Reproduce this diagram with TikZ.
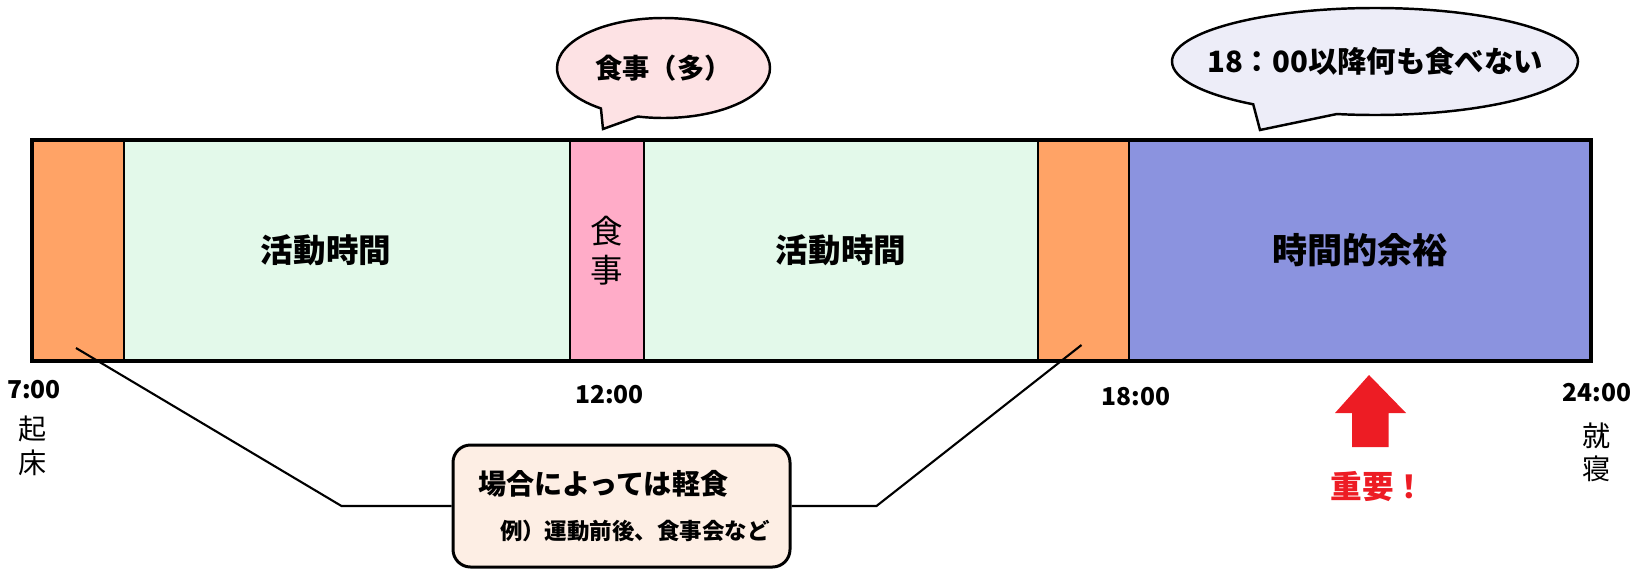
\documentclass[tikz,border=0pt]{standalone}
\usepackage{fontspec}
\setmainfont{Noto Sans CJK JP}
\usepackage{tikz}
\usetikzlibrary{positioning,shapes.geometric,shapes.callouts}
\definecolor{edgeorange}{HTML}{FFA366}
\definecolor{workgreen}{HTML}{E3F9EA}
\definecolor{mealpink}{HTML}{FFACC8}
\definecolor{sparepurple}{HTML}{8B93DF}
\definecolor{saypink}{HTML}{FDE2E4}
\definecolor{saylavender}{HTML}{EDEDF8}
\definecolor{notepeach}{HTML}{FDEEE4}
\definecolor{alertred}{HTML}{ED1C24}

\begin{document}
\begin{tikzpicture}[
    seg/.style={rectangle, draw=black, line width=1.4pt, minimum height=4.42cm, inner sep=0pt, outer sep=0pt},
    segtext/.style={font=\bfseries\fontsize{18.5}{20}\selectfont},
    bubble/.style={ellipse callout, draw=black, line width=1.4pt, inner sep=0pt, font=\bfseries\fontsize{15.5}{17}\selectfont},
    clock/.style={font=\bfseries\fontsize{14}{16}\selectfont},
    tate/.style={align=center, font=\fontsize{16}{19}\selectfont},
    leader/.style={line width=1.2pt}
]
    \useasboundingbox (0,0) rectangle (32.8,-11.66);

    % day bar
    \node[seg, fill=edgeorange, minimum width=1.85cm] (morn) at (1.56,-5.01) {};
    \node[seg, segtext, fill=workgreen, minimum width=8.91cm, right=0pt of morn] (work1) {\raisebox{-4pt}{活動時間}\hspace*{0.84cm}};
    \node[seg, fill=mealpink, minimum width=1.48cm, right=0pt of work1, align=center, font=\fontsize{18.5}{22}\selectfont] (meal) {食\\事};
    \node[seg, segtext, fill=workgreen, minimum width=7.89cm, right=0pt of meal] (work2) {\raisebox{-2pt}{活動時間}};
    \node[seg, fill=edgeorange, minimum width=1.82cm, right=0pt of work2] (eve) {};
    \node[seg, fill=sparepurple, minimum width=9.23cm, right=0pt of eve, font=\bfseries\fontsize{20}{22}\selectfont] (spare) {時間的余裕};
    \draw[line width=2.4pt] (morn.north west) rectangle (spare.south east);

    % speech bubbles
    \coordinate (tip1) at (12.06,-2.58);
    \coordinate (tip2) at (25.2,-2.6);
    \node[bubble, fill=saypink, minimum width=4.26cm, minimum height=2.0cm,
          callout absolute pointer={(tip1)}, callout pointer arc=22] (say1) at (13.27,-1.36) {食事（多）};
    \node[bubble, fill=saylavender, minimum width=8.12cm, minimum height=2.14cm, inner xsep=-0.9cm,
          callout absolute pointer={(tip2)}, callout pointer arc=26,
          font=\bfseries\fontsize{16.7}{18}\selectfont] (say2) at (27.5,-1.23) {18：00以降何も食べない};

    % clock times
    \node[clock] (t7)  at (0.68,-7.8)   {7:00};
    \node[clock] (t12) at (12.19,-7.9)  {12:00};
    \node[clock] (t18) at (22.72,-7.94) {18:00};
    \node[clock] (t24) at (31.94,-7.86) {24:00};
    \node[tate] (wakeup) at (0.66,-8.92)  {起\\床};
    \node[tate] (sleep)  at (31.94,-9.04) {就\\寝};

    % important mark
    \fill[alertred] (27.38,-7.5) -- (28.12,-8.26) -- (27.77,-8.26) -- (27.77,-8.94)
        -- (27.04,-8.94) -- (27.04,-8.26) -- (26.70,-8.26) -- cycle;
    \node[text=alertred, font=\bfseries\fontsize{18}{20}\selectfont] (key) at (27.56,-9.74) {重要！};

    % snack note
    \node[draw=black, line width=1.7pt, fill=notepeach, rounded corners=0.35cm,
          minimum width=6.74cm, minimum height=2.44cm, inner xsep=0.5cm, text width=5.74cm, align=left,
          font=\bfseries\fontsize{16}{18}\selectfont] (note) at (12.43,-10.12)
          {場合によっては軽食\\[8pt]{\fontsize{12.8}{14}\selectfont\hspace*{0.44cm}例）運動前後、食事会など}};
    \coordinate (pin1) at (1.52,-6.96);
    \coordinate (pin2) at (21.63,-6.9);
    \draw[leader] (note.west) -- ++(-2.2,0) -- (pin1);
    \draw[leader] (note.east) -- ++(1.7,0) -- (pin2);
\end{tikzpicture}
\end{document}
